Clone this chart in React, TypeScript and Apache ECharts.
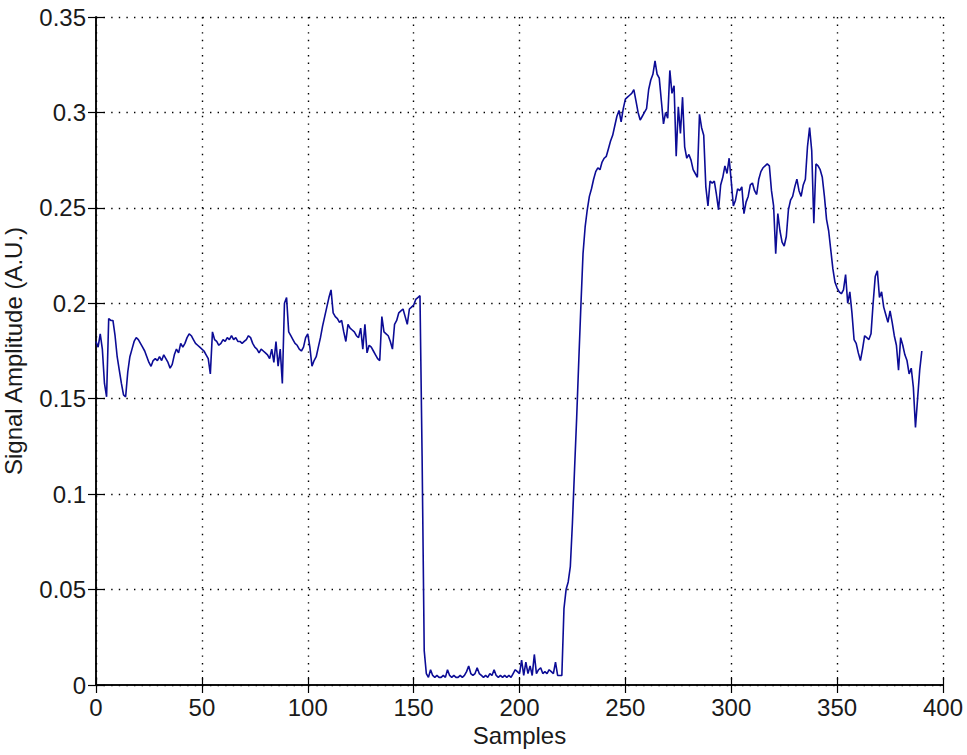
import React, { useEffect, useRef } from "react";
import * as echarts from "echarts";

const xTicks = [0, 50, 100, 150, 200, 250, 300, 350, 400];
const yTicks = [0, 0.05, 0.1, 0.15, 0.2, 0.25, 0.3, 0.35];
const xName = "Samples";
const yName = "Signal Amplitude (A.U.)";

// signal amplitude, one value per sample (sample index = position)
const amplitude = [
  0.180,0.177,0.184,0.176,0.158,0.151,0.192,0.191,0.191,0.183,
  0.172,0.165,0.158,0.152,0.151,0.164,0.172,0.176,0.180,0.182,
  0.181,0.179,0.177,0.175,0.172,0.169,0.167,0.170,0.171,0.170,
  0.172,0.170,0.173,0.171,0.169,0.166,0.168,0.173,0.176,0.174,
  0.179,0.177,0.179,0.182,0.184,0.183,0.181,0.179,0.178,0.177,
  0.176,0.175,0.173,0.171,0.163,0.185,0.181,0.180,0.178,0.179,
  0.181,0.180,0.182,0.181,0.183,0.181,0.182,0.180,0.180,0.179,
  0.180,0.181,0.183,0.182,0.179,0.177,0.176,0.174,0.176,0.175,
  0.174,0.173,0.171,0.176,0.169,0.180,0.167,0.176,0.158,0.200,
  0.203,0.185,0.183,0.181,0.179,0.178,0.176,0.175,0.177,0.182,
  0.184,0.177,0.167,0.170,0.172,0.177,0.182,0.188,0.193,0.198,
  0.203,0.207,0.195,0.193,0.192,0.190,0.191,0.185,0.180,0.189,
  0.187,0.186,0.185,0.183,0.182,0.187,0.176,0.189,0.174,0.178,
  0.177,0.175,0.173,0.171,0.170,0.193,0.185,0.184,0.183,0.180,
  0.176,0.189,0.191,0.195,0.196,0.197,0.193,0.189,0.197,0.198,
  0.199,0.202,0.203,0.204,0.120,0.018,0.006,0.004,0.008,0.005,
  0.004,0.005,0.004,0.004,0.005,0.004,0.008,0.005,0.004,0.005,
  0.004,0.004,0.005,0.004,0.005,0.007,0.010,0.006,0.005,0.006,
  0.009,0.006,0.005,0.004,0.005,0.004,0.006,0.005,0.008,0.005,
  0.004,0.005,0.004,0.005,0.004,0.005,0.004,0.006,0.008,0.007,
  0.006,0.013,0.005,0.012,0.006,0.010,0.005,0.016,0.006,0.008,
  0.009,0.006,0.007,0.006,0.008,0.007,0.006,0.012,0.005,0.005,
  0.005,0.040,0.050,0.054,0.062,0.085,0.113,0.140,0.170,0.199,
  0.226,0.240,0.249,0.256,0.260,0.265,0.269,0.271,0.270,0.274,
  0.276,0.277,0.281,0.285,0.288,0.293,0.298,0.301,0.295,0.302,
  0.307,0.308,0.309,0.310,0.312,0.306,0.300,0.296,0.298,0.300,
  0.302,0.312,0.317,0.320,0.327,0.320,0.318,0.306,0.294,0.300,
  0.297,0.322,0.310,0.314,0.277,0.303,0.289,0.308,0.282,0.276,
  0.278,0.275,0.270,0.268,0.266,0.299,0.292,0.288,0.261,0.251,
  0.264,0.263,0.264,0.257,0.249,0.262,0.266,0.272,0.268,0.276,
  0.264,0.251,0.254,0.260,0.259,0.261,0.247,0.253,0.256,0.262,
  0.263,0.259,0.257,0.265,0.269,0.271,0.272,0.273,0.272,0.259,
  0.251,0.226,0.247,0.238,0.232,0.230,0.235,0.249,0.254,0.256,
  0.261,0.265,0.259,0.256,0.262,0.265,0.282,0.292,0.280,0.242,
  0.273,0.272,0.270,0.266,0.256,0.244,0.238,0.228,0.218,0.211,
  0.208,0.206,0.205,0.207,0.215,0.200,0.206,0.195,0.181,0.179,
  0.174,0.170,0.176,0.183,0.182,0.181,0.184,0.200,0.214,0.217,
  0.203,0.206,0.198,0.194,0.190,0.196,0.190,0.183,0.178,0.165,
  0.182,0.178,0.173,0.170,0.163,0.166,0.156,0.135,0.150,0.165,
  0.175,
];

const FONT = "'Liberation Sans', Arial, sans-serif";

export default function App() {
  const ref = useRef<HTMLDivElement>(null);
  useEffect(() => {
    document.body.style.margin = "0";
    const chart = echarts.init(ref.current!, null, { renderer: "svg" });
    const xMin = xTicks[0], xMax = xTicks[xTicks.length - 1], xInt = xTicks[1] - xTicks[0];
    const yMin = yTicks[0], yMax = yTicks[yTicks.length - 1], yInt = 0.05;
    const axisLine = { show: true, lineStyle: { color: "#000", width: 1.5 } };
    const tick = { show: true, inside: true, length: 8, lineStyle: { color: "#000", width: 1.2 } };
    const grid = { show: true, lineStyle: { color: "#000", width: 1.4, type: [1.4, 6.2] as any } };
    const label = { color: "#1a1a1a", fontSize: 24, fontFamily: FONT };
    chart.setOption({
      animation: false,
      backgroundColor: "#fff",
      grid: { left: 96, right: 24, top: 17, bottom: 70, containLabel: false, outerBoundsMode: "none" },
      xAxis: [
        {
          type: "value", position: "bottom", min: xMin, max: xMax, interval: xInt,
          axisLine, axisTick: tick, splitLine: grid,
          axisLabel: { ...label, margin: 10, formatter: (v: number) => String(v) },
          name: xName, nameLocation: "middle", nameGap: 38,
          nameTextStyle: { color: "#1a1a1a", fontSize: 24, fontFamily: FONT },
        },
        {
          type: "value", position: "top", min: xMin, max: xMax, interval: xInt,
          axisLine, axisTick: tick, splitLine: { show: false }, axisLabel: { show: false },
        },
      ],
      yAxis: [
        {
          type: "value", position: "left", min: yMin, max: yMax, interval: yInt,
          axisLine, axisTick: tick, splitLine: grid,
          axisLabel: { ...label, margin: 10, formatter: (v: number) => String(+v.toFixed(2)) },
          name: yName, nameLocation: "middle", nameGap: 71,
          nameTextStyle: { color: "#1a1a1a", fontSize: 24, fontFamily: FONT },
        },
        {
          type: "value", position: "right", min: yMin, max: yMax, interval: yInt,
          axisLine, axisTick: tick, splitLine: { show: false }, axisLabel: { show: false },
        },
      ],
      series: [
        {
          type: "line",
          xAxisIndex: 0,
          yAxisIndex: 0,
          data: amplitude.map((v, i) => [i, v]),
          showSymbol: false,
          symbol: "none",
          lineStyle: { color: "#0c0c96", width: 1.6 },
        },
      ],
    });
    return () => chart.dispose();
  }, []);
  return <div ref={ref} style={{ width: 967, height: 755 }} />;
}
